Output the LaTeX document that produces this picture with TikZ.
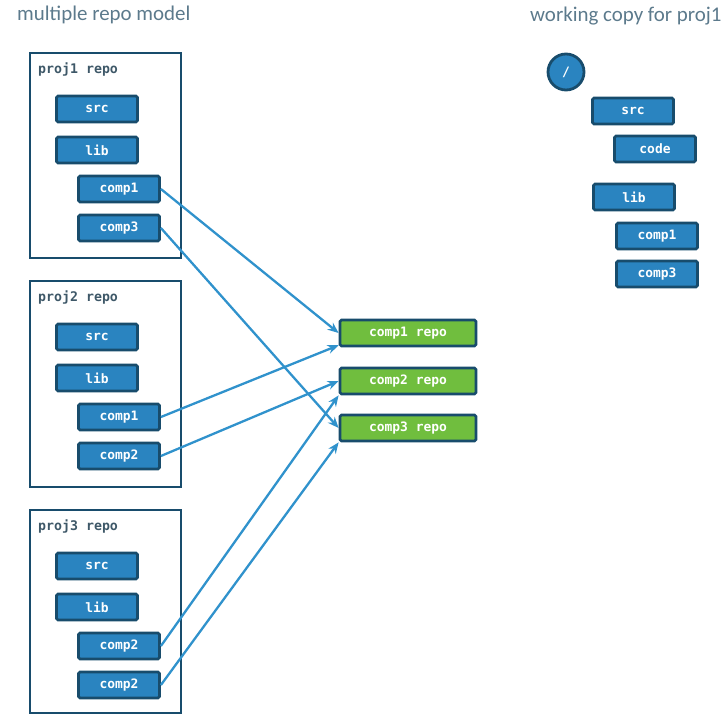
\documentclass[tikz,border=0pt]{standalone}
\usepackage{fontspec}
\setmainfont{Carlito}
\setmonofont{DejaVu Sans Mono}
\usetikzlibrary{arrows.meta}
\definecolor{dirfill}{RGB}{42,132,192}
\definecolor{diredge}{RGB}{24,76,108}
\definecolor{repofill}{RGB}{112,190,62}
\definecolor{linkcol}{RGB}{48,146,204}
\definecolor{titlecol}{RGB}{92,122,140}
\definecolor{labelcol}{RGB}{62,88,104}

\tikzset{
  dir/.style={draw=diredge, fill=dirfill, line width=2.8bp, rounded corners=1.5bp,
    minimum width=81bp, minimum height=26bp, inner sep=0pt,
    text=white, font=\ttfamily\bfseries\fontsize{13}{14}\selectfont},
  comprepo/.style={dir, fill=repofill, minimum width=136bp},
  projbox/.style={draw=diredge, line width=2.8bp},
  projlabel/.style={anchor=west, inner sep=0pt, text=labelcol,
    font=\ttfamily\bfseries\fontsize{13.3}{14}\selectfont},
  heading/.style={anchor=west, inner sep=0pt, text=titlecol, font=\fontsize{21}{24}\selectfont},
  link/.style={draw=linkcol, line width=2.3bp, -{Stealth[length=11bp,width=9bp]}}
}

\begin{document}
\begin{tikzpicture}[x=1bp, y=-1bp]
  \useasboundingbox (0,0) rectangle (725,714);
  % headings
  \node[heading] (tleft) at (17,15) {multiple repo model};
  \node[heading] (tright) at (530,16) {working copy for proj1};
  % project repos
  \foreach \p/\y/\a/\b/\h in {1/53/comp1/comp3/205, 2/281/comp1/comp2/206, 3/510/comp2/comp2/203} {
    \draw[projbox] (30,\y) rectangle (181,\y+\h);
    \node[projlabel] (pl\p) at (38,\y+16) {proj\p{} repo};
    \node[dir] (src\p) at (97,\y+56) {src};
    \node[dir] (lib\p) at (97,\y+97) {lib};
    \node[dir] (a\p) at (119,\y+136) {\a};
    \node[dir] (b\p) at (119,\y+175) {\b};
  }
  % component repos
  \node[comprepo] (r1) at (408,333) {comp1 repo};
  \node[comprepo] (r2) at (408,381) {comp2 repo};
  \node[comprepo] (r3) at (408,428) {comp3 repo};
  % links
  \draw[link] (a1.east) -- (r1.west);
  \draw[link] (a2.east) -- (r1.190);
  \draw[link] (b2.east) -- (r2.west);
  \draw[link] (a3.east) -- (r2.south west);
  \draw[link] (b1.east) -- (r3.west);
  \draw[link] (b3.east) -- (r3.south west);
  % working copy
  \node[circle, draw=diredge, fill=dirfill, line width=2.8bp, minimum size=36bp, inner sep=0pt,
    text=white, font=\ttfamily\bfseries\fontsize{13}{14}\selectfont] (root) at (566,72) {/};
  \node[dir] (wsrc) at (633,111) {src};
  \node[dir] (wcode) at (655,149) {code};
  \node[dir] (wlib) at (634,197) {lib};
  \node[dir] (wc1) at (657,236) {comp1};
  \node[dir] (wc3) at (657,274) {comp3};
\end{tikzpicture}
\end{document}
